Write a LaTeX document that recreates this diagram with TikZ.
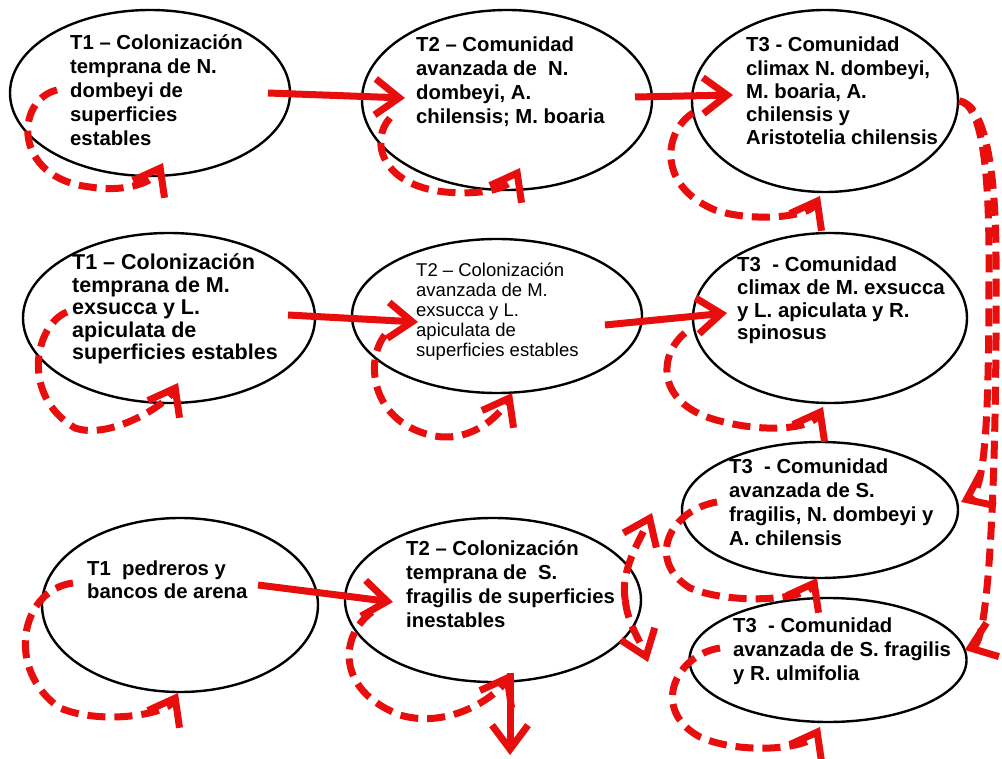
\documentclass[tikz,border=0pt]{standalone}
\usepackage{fontspec}
\setmainfont{Liberation Sans}
\usetikzlibrary{arrows.meta,shapes.geometric,calc}
\definecolor{arrred}{RGB}{232,14,14}
\begin{document}
\begin{tikzpicture}[x=1pt,y=-1pt,
  >={Straight Barb[length=24pt,width=36pt]},
  ell/.style={draw=black, line width=2.4pt, ellipse, inner sep=0pt},
  conn/.style={draw=arrred, line width=7pt, ->},
  dconn/.style={conn, dash pattern=on 18pt off 9pt},
  txt/.style={anchor=base west, align=left, inner sep=0pt, font=\fontsize{20.3}{24}\selectfont\bfseries},
]
\useasboundingbox (0,0) rectangle (1002,759);
\fill[white] (0,0) rectangle (1002,759);

% ellipses
\node[ell, minimum width=280pt, minimum height=166pt] (n1) at (150,93) {};
\node[ell, minimum width=290pt, minimum height=180pt] (n2) at (507,100) {};
\node[ell, minimum width=266pt, minimum height=182pt] (n3) at (825,101) {};
\node[ell, minimum width=292pt, minimum height=170pt] (n4) at (169,318) {};
\node[ell, minimum width=290pt, minimum height=154pt] (n5) at (497,316) {};
\node[ell, minimum width=274pt, minimum height=170pt] (n6) at (830,318) {};
\node[ell, minimum width=276pt, minimum height=136pt] (n7) at (820,510) {};
\node[ell, minimum width=277pt, minimum height=124pt] (n8) at (828,660) {};
\node[ell, minimum width=276pt, minimum height=174pt] (n9) at (180,605) {};
\node[ell, minimum width=296pt, minimum height=164pt] (n10) at (493,600) {};

% texts (anchor = baseline of the last line)
\node[txt] (t1) at (70,146) {T1 – Colonización\\temprana de N.\\dombeyi de\\superficies\\estables};
\node[txt] (t2) at (416,124) {T2 – Comunidad\\avanzada de~~N.\\dombeyi, A.\\chilensis; M. boaria};
\node[txt, font=\fontsize{20.3}{23.3}\selectfont\bfseries] (t3) at (746,145) {T3 - Comunidad\\climax N. dombeyi,\\M. boaria, A.\\chilensis y\\Aristotelia chilensis};
\node[txt, font=\fontsize{21.5}{22.5}\selectfont\bfseries] (t4) at (72,360) {T1 – Colonización\\temprana de M.\\exsucca y L.\\apiculata de\\superficies estables};
\node[txt, font=\fontsize{18.5}{20}\selectfont] (t5) at (416,357) {T2 – Colonización\\avanzada de M.\\exsucca y L.\\apiculata de\\superficies estables};
\node[txt, font=\fontsize{20.4}{22.7}\selectfont\bfseries] (t6) at (737,340) {T3~~- Comunidad\\climax de M. exsucca\\y L. apiculata y R.\\spinosus};
\node[txt] (t7) at (729,545) {T3~~- Comunidad\\avanzada de S.\\fragilis, N. dombeyi y\\A. chilensis};
\node[txt] (t8) at (733,680) {T3~~- Comunidad\\avanzada de S. fragilis\\y R. ulmifolia};
\node[txt, font=\fontsize{20.3}{23}\selectfont\bfseries] (t9) at (87,598) {T1~~pedreros y\\bancos de arena};
\node[txt] (t10) at (406,627) {T2 – Colonización\\temprana de~~S.\\fragilis de superficies\\inestables};

% free ends
\coordinate (c7in) at ($(n7.east)+(2,-8)$);
\coordinate (c8in) at ($(n8.east)+(-3,-10)$);
\coordinate (c10up) at (652,513);
\coordinate (c10dn) at (648,662);
\coordinate (c10bot) at (510,755);

% solid connectors
\draw[conn] ($(n1.center)+(118,0)$) -- ($(n2.center)+(-102,-2)$);
\draw[conn] ($(n2.center)+(128,-3)$) -- ($(n3.center)+(-92,-6)$);
\draw[conn] ($(n4.center)+(119,-3)$) -- ($(n5.center)+(-79,6)$);
\draw[conn] ($(n5.center)+(108,9)$) -- ($(n6.center)+(-103,-5)$);
\draw[conn] ($(n9.center)+(78,-20)$) -- ($(n10.center)+(-100,2)$);
\draw[conn] ($(n10.south)+(17,-10)$) -- (c10bot);

% self loops
\draw[dconn, shift={(n1.center)}] (-93,-3) .. controls (-135,7) and (-138,85) .. (-60,94) .. controls (-30,99) and (1,92) .. (13,70);
\draw[dconn, shift={(n2.center)}] (-117,18) .. controls (-137,40) and (-127,85) .. (-62,92) .. controls (-27,95) and (1,90) .. (13,68);
\draw[dconn, shift={(n3.center)}] (-132,12) .. controls (-160,29) and (-170,84) .. (-110,109) .. controls (-75,121) and (-17,117) .. (-5,95);
\draw[dconn, shift={(n4.center)}] (-102,-6) .. controls (-134,7) and (-149,77) .. (-94,110) .. controls (-59,122) and (-3,87) .. (9,65);
\draw[dconn, shift={(n5.center)}] (-112,19) .. controls (-132,44) and (-127,104) .. (-67,119) .. controls (-27,129) and (3,99) .. (15,77);
\draw[dconn, shift={(n6.center)}] (-145,15) .. controls (-172,37) and (-175,87) .. (-110,103) .. controls (-65,115) and (-19,111) .. (-7,89);
\draw[dconn, shift={(n7.center)}] (-103,-8) .. controls (-150,0) and (-175,50) .. (-130,78) .. controls (-90,95) and (-15,90) .. (-3,68);
\draw[dconn, shift={(n8.center)}] (-108,-12) .. controls (-153,-5) and (-178,50) .. (-128,77) .. controls (-88,95) and (-20,89) .. (-8,67);
\draw[dconn, shift={(n9.center)}] (-107,-22) .. controls (-160,-15) and (-175,65) .. (-120,103) .. controls (-80,120) and (-14,110) .. (-2,88);
\draw[dconn, shift={(n10.center)}] (-121,12) .. controls (-153,35) and (-158,90) .. (-93,115) .. controls (-43,130) and (5,95) .. (17,73);

% right side dashed connectors
\draw[dconn] (n3.east) .. controls (982,104) and (989,170) .. (989,260) .. controls (989,400) and (987,490) .. (c7in);
\draw[dconn] (n3.east) .. controls (985,104) and (996,170) .. (996,260) .. controls (997,420) and (992,640) .. (c8in);

% from T2 bottom-row to the two T3 nodes
\draw[dconn] ($(n10.east)+(-17,0)$) .. controls (620,570) and (640,540) .. (c10up);
\draw[dconn] ($(n10.east)+(-17,0)$) .. controls (628,625) and (640,640) .. (c10dn);
\end{tikzpicture}
\end{document}
